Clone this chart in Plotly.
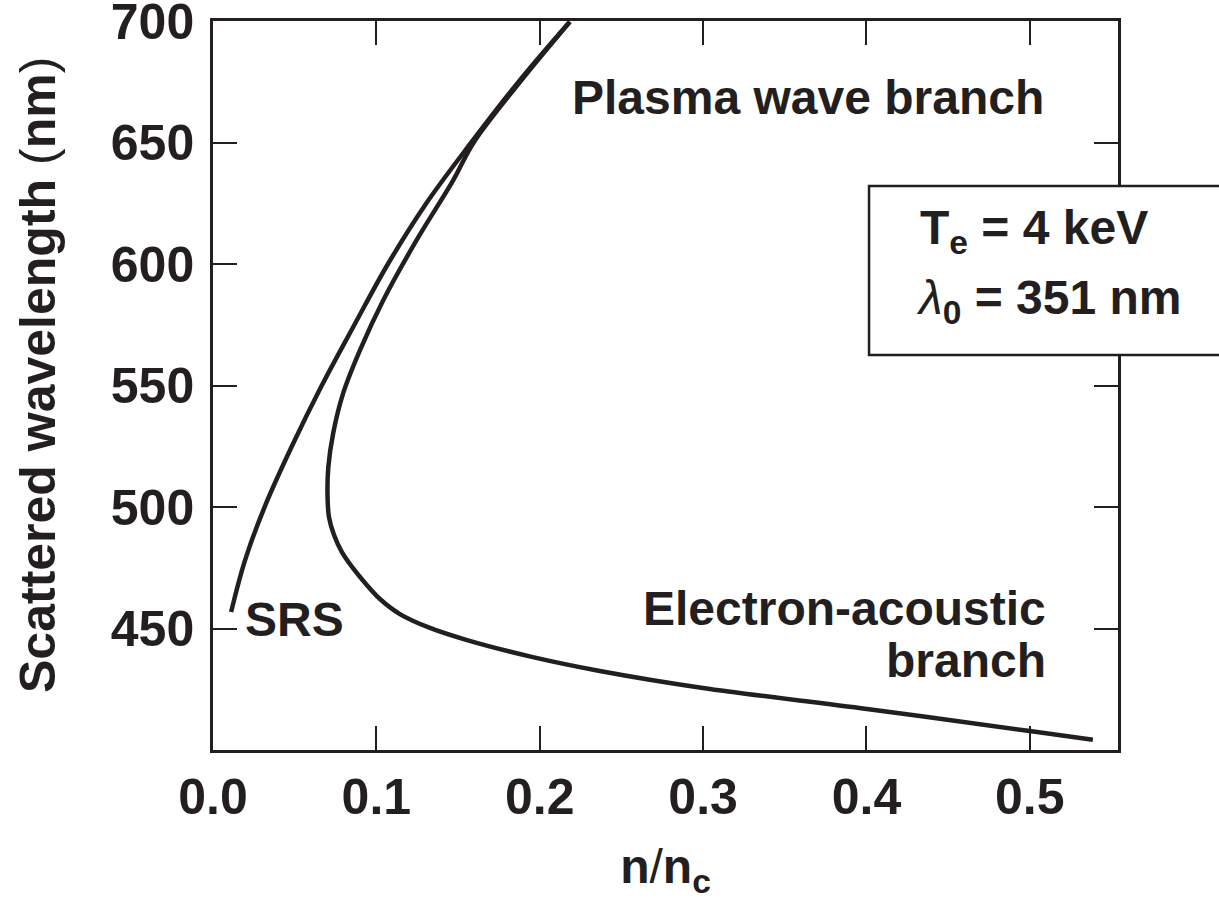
import plotly.graph_objects as go

# Plasma-wave (SRS) branch, left curve: n/nc vs scattered wavelength (nm)
srs_n = [0.0111, 0.0195, 0.0315, 0.0482, 0.0665, 0.0865, 0.1070,
         0.1305, 0.1580, 0.1870, 0.2183]
srs_lambda = [457.0, 478.0, 500.0, 525.0, 550.0, 575.0, 600.0,
              625.0, 650.0, 675.0, 699.7]

# Electron-acoustic branch (turns at the nose and joins the plasma wave branch)
ea_n = [0.5386, 0.5000, 0.4003, 0.2999, 0.2368, 0.1958, 0.1555, 0.1328,
        0.1144, 0.1022, 0.0936, 0.0857, 0.0789, 0.0741, 0.0710, 0.0701,
        0.0706, 0.0736, 0.0797, 0.0900, 0.1043, 0.1247, 0.1471, 0.1595,
        0.1880, 0.2185]
ea_lambda = [404.4, 408.0, 417.1, 425.7, 432.7, 438.4, 445.4, 450.4,
             456.1, 462.3, 468.5, 475.0, 481.6, 488.6, 496.0, 505.1,
             516.6, 530.6, 547.0, 564.7, 585.3, 610.0, 634.6, 650.0,
             675.0, 699.7]

x_ticks = [0.0, 0.1, 0.2, 0.3, 0.4, 0.5]
x_tick_labels = ["0.0", "0.1", "0.2", "0.3", "0.4", "0.5"]
y_ticks = [450, 500, 550, 600, 650, 700]
y_tick_labels = ["450", "500", "550", "600", "650", "700"]

INK = "#231f20"
FONT = "Liberation Sans, Arial, Helvetica, sans-serif"

fig = go.Figure()
fig.add_trace(go.Scatter(x=srs_n, y=srs_lambda, mode="lines",
                         line=dict(color=INK, width=4.5, shape="spline", smoothing=1.0),
                         showlegend=False, hoverinfo="skip"))
fig.add_trace(go.Scatter(x=ea_n, y=ea_lambda, mode="lines",
                         line=dict(color=INK, width=4.5, shape="spline", smoothing=1.0),
                         showlegend=False, hoverinfo="skip"))

axis_common = dict(
    showline=True, linewidth=2.5, linecolor=INK, mirror="ticks",
    ticks="inside", ticklen=24, tickwidth=2, tickcolor=INK,
    showgrid=False, zeroline=False, automargin=False,
    ticklabeloverflow="allow",
    tickfont=dict(family=FONT, size=50, color=INK, weight="bold"),
)

fig.update_layout(
    width=1219, height=900,
    margin=dict(l=213, r=101, t=21, b=150),
    paper_bgcolor="white", plot_bgcolor="white",
    font=dict(family=FONT, color=INK),
    xaxis=dict(range=[0, 0.554], tickvals=x_ticks, ticktext=x_tick_labels,
               ticklabelstandoff=1,
               title=dict(text="<b>n</b>/<b>n<sub>c</sub></b>",
                          font=dict(family=FONT, size=48, color=INK), standoff=29),
               **axis_common),
    yaxis=dict(range=[400.2, 700.05], tickvals=y_ticks, ticktext=y_tick_labels,
               ticklabelstandoff=6,
               **axis_common),
)

# y-axis title
fig.add_annotation(x=-0.1934, y=0.5144, xref="paper", yref="paper",
                   xanchor="center", yanchor="middle", textangle=-90,
                   text="<b>Scattered wavelength </b>(<b>nm</b>)", showarrow=False,
                   font=dict(family=FONT, size=50, color=INK))

ann_font = dict(family=FONT, size=48, color=INK)
fig.add_annotation(x=0.5097, y=668.5, xref="x", yref="y", xanchor="right", yanchor="middle",
                   text="<b>Plasma wave branch</b>", showarrow=False, font=ann_font)
fig.add_annotation(x=0.5110, y=458.6, xref="x", yref="y", xanchor="right", yanchor="middle",
                   text="<b>Electron-acoustic</b>", showarrow=False, font=ann_font)
fig.add_annotation(x=0.5110, y=437.1, xref="x", yref="y", xanchor="right", yanchor="middle",
                   text="<b>branch</b>", showarrow=False, font=ann_font)
fig.add_annotation(x=0.0499, y=453.7, xref="x", yref="y", xanchor="center", yanchor="middle",
                   text="<b>SRS</b>", showarrow=False, font=ann_font)

# parameter box
fig.add_shape(type="rect", xref="paper", yref="paper", x0=0.7249, x1=1.2, y0=0.5418, y1=0.7737,
              line=dict(color=INK, width=2.5), fillcolor="white", layer="above")
fig.add_annotation(x=0.7790, y=0.7126, xref="paper", yref="paper", xanchor="left", yanchor="middle",
                   text="<b>T<sub>e</sub> = 4 keV</b>", showarrow=False, font=ann_font)
fig.add_annotation(x=0.7746, y=0.6159, xref="paper", yref="paper", xanchor="left", yanchor="middle",
                   text="<i>λ</i><b><sub>0</sub> = 351 nm</b>", showarrow=False, font=ann_font)

fig.write_html("out.html", config={"displayModeBar": False},
               post_script="document.body.style.margin='0px';")
